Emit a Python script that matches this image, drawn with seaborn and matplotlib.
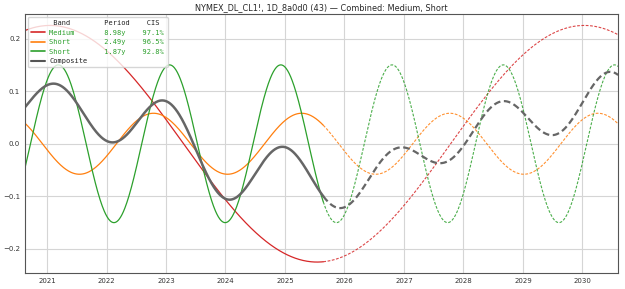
import numpy as np
import pandas as pd
import seaborn as sns
import matplotlib.pyplot as plt

# Band parameters (period from legend, amplitude / peak from the curves)
band_names = ['Medium', 'Short', 'Short']
band_periods = [8.98, 2.49, 1.87]
band_cis = ['97.1%', '96.5%', '92.8%']
band_amps = [0.225, 0.058, 0.150]
band_peaks = [2021.05, 2025.28, 2024.93]
band_colors = ['#d62728', '#ff7f0e', '#2ca02c']

x_start, x_end = 2020.63, 2030.6
now = 2025.65
year_ticks = list(range(2021, 2031))
y_ticks = [-0.2, -0.1, 0.0, 0.1, 0.2]

title = 'NYMEX_DL_CL1!, 1D_8a0d0 (43) — Combined: Medium, Short'

# Build the cycle curves
t = np.linspace(x_start, x_end, 1200)
curves = {}
for i, (p, a, pk) in enumerate(zip(band_periods, band_amps, band_peaks)):
    curves[f'b{i}'] = a * np.cos(2 * np.pi * (t - pk) / p)
comp = np.mean(list(curves.values()), axis=0)

rows = []
for key, vals in list(curves.items()) + [('comp', comp)]:
    rows.append(pd.DataFrame({'t': t, 'v': vals, 'band': key, 'future': t > now}))
df = pd.concat(rows, ignore_index=True)

sns.set_style('whitegrid')
plt.rcParams['font.family'] = ['DejaVu Sans']

fig, ax = plt.subplots(figsize=(6.25, 2.89), dpi=100)
fig.subplots_adjust(left=0.04, right=0.989, bottom=0.055, top=0.952)

for i in range(3):
    d = df[df['band'] == f'b{i}']
    sns.lineplot(data=d[~d['future']], x='t', y='v', ax=ax, color=band_colors[i], lw=0.9)
    sns.lineplot(data=d[d['t'] >= now - 0.01], x='t', y='v', ax=ax, color=band_colors[i],
                 lw=0.8, alpha=0.85, linestyle='--')
    ax.lines[-1].set_dashes((2.5, 1.4))
d = df[df['band'] == 'comp']
sns.lineplot(data=d[~d['future']], x='t', y='v', ax=ax, color='#666666', lw=1.8)
sns.lineplot(data=d[d['t'] >= now - 0.01], x='t', y='v', ax=ax, color='#666666',
             lw=1.6, linestyle='--')
ax.lines[-1].set_dashes((3, 1.6))

ax.set_xlim(x_start, x_end)
ax.set_ylim(-0.246, 0.247)
ax.set_xticks(year_ticks)
ax.set_xticklabels([str(y) for y in year_ticks])
ax.set_yticks(y_ticks)
ax.set_yticklabels([f'{v:.1f}'.replace('-', '\u2212') for v in y_ticks])
ax.set_xlabel('')
ax.set_ylabel('')
ax.tick_params(labelsize=5.0, length=2, pad=1.5, colors='#333333')
ax.grid(color='#d5d5d5', lw=0.8)
for s in ax.spines.values():
    s.set_color('#555555')
    s.set_linewidth(0.8)
ax.set_title(title, fontsize=5.9, pad=3)

# Legend with a header row
handles = [plt.Line2D([], [], color='none')]
labels = [f"{' Band':<13}{'Period':<10}CIS"]
for name, per, cis, col in zip(band_names, band_periods, band_cis, band_colors):
    handles.append(plt.Line2D([], [], color=col, lw=1.2))
    labels.append(f'{name:<13}{per:.2f}y{"":<4}{cis}')
handles.append(plt.Line2D([], [], color='#555555', lw=1.5))
labels.append('Composite')
leg = ax.legend(handles, labels, loc='upper left', prop={'family': 'DejaVu Sans Mono', 'size': 5.0},
                frameon=True, framealpha=0.8, edgecolor='#cccccc', handlelength=2.0,
                borderpad=0.5, labelspacing=0.5, handletextpad=0.6, borderaxespad=0.4)
for i, txt in enumerate(leg.get_texts()):
    if 1 <= i <= 3:
        txt.set_color('#2ca02c')
    else:
        txt.set_color('#222222')

fig.savefig('out.png', dpi=100)
